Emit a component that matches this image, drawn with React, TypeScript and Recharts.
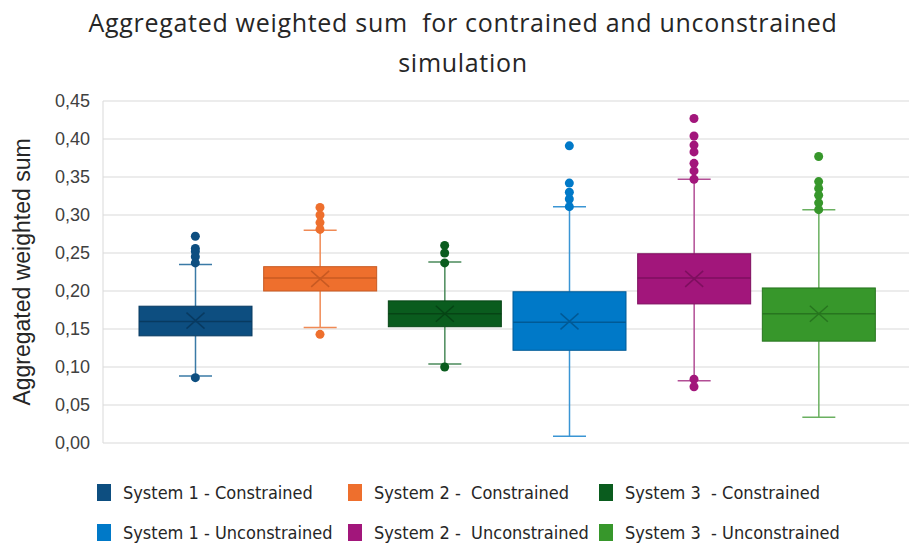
import React from 'react';
import { ComposedChart, Bar, Scatter, XAxis, YAxis, CartesianGrid } from 'recharts';

const categories = [
  'System 1 - Constrained',
  'System 2 - Constrained',
  'System 3 - Constrained',
  'System 1 - Unconstrained',
  'System 2 - Unconstrained',
  'System 3 - Unconstrained',
];
const legendLabels = [
  'System 1 - Constrained',
  'System 2 -  Constrained',
  'System 3  - Constrained',
  'System 1 - Unconstrained',
  'System 2 -  Unconstrained',
  'System 3  - Unconstrained',
];
const q1 = [0.141, 0.2, 0.153, 0.122, 0.183, 0.134];
const median = [0.16, 0.217, 0.17, 0.159, 0.217, 0.17];
const q3 = [0.18, 0.232, 0.187, 0.199, 0.249, 0.204];
const mean = [0.161, 0.216, 0.17, 0.16, 0.216, 0.17];
const whiskerLow = [0.088, 0.152, 0.104, 0.009, 0.082, 0.034];
const whiskerHigh = [0.235, 0.28, 0.238, 0.311, 0.347, 0.307];
const outliers: number[][] = [
  [0.272, 0.256, 0.252, 0.245, 0.237, 0.086],
  [0.31, 0.3, 0.29, 0.281, 0.143],
  [0.26, 0.25, 0.237, 0.1],
  [0.391, 0.342, 0.33, 0.321, 0.311],
  [0.427, 0.404, 0.392, 0.383, 0.368, 0.358, 0.347, 0.084, 0.074],
  [0.377, 0.344, 0.335, 0.326, 0.316, 0.307],
];
const yTicks = [0, 0.05, 0.1, 0.15, 0.2, 0.25, 0.3, 0.35, 0.4, 0.45];

const fillColors = ['#0D4E80', '#EE6F2D', '#0A5C1E', '#0079C8', '#A2167B', '#37972B'];
const darkColors = ['#083A60', '#C85A22', '#064415', '#005A96', '#7E0F5F', '#27751F'];
const whiskerColors = ['#3A7AA6', '#F08A55', '#4A8A5A', '#3A95D4', '#B24E95', '#6AB060'];

const data = categories.map((name, i) => ({
  name,
  idx: i,
  box: [q1[i], q3[i]],
  q1: q1[i],
  q3: q3[i],
  median: median[i],
  mean: mean[i],
  lo: whiskerLow[i],
  hi: whiskerHigh[i],
}));

const outlierData = outliers.flatMap((arr, i) =>
  arr.map((v) => ({ name: categories[i], value: v, idx: i }))
);

function BoxShape(props: any) {
  const { x, y, width, height, payload } = props;
  const p = payload;
  const top = Math.min(y, y + height);
  const h = Math.abs(height);
  const k = h / (p.q3 - p.q1);
  const py = (v: number) => top + (p.q3 - v) * k;
  const cx = x + width / 2;
  const i = p.idx;
  const capHalf = 16.5;
  const yHi = py(p.hi);
  const yLo = py(p.lo);
  const yMed = py(p.median);
  const yMean = py(p.mean);
  const wc = whiskerColors[i];
  const dc = darkColors[i];
  return (
    <g>
      <line x1={cx} x2={cx} y1={yHi} y2={top} stroke={wc} strokeWidth={1.5} />
      <line x1={cx} x2={cx} y1={top + h} y2={yLo} stroke={wc} strokeWidth={1.5} />
      <line x1={cx - capHalf} x2={cx + capHalf} y1={yHi} y2={yHi} stroke={wc} strokeWidth={1.5} />
      <line x1={cx - capHalf} x2={cx + capHalf} y1={yLo} y2={yLo} stroke={wc} strokeWidth={1.5} />
      <rect x={x} y={top} width={width} height={h} fill={fillColors[i]} stroke={dc} strokeWidth={1} />
      <line x1={x} x2={x + width} y1={yMed} y2={yMed} stroke={dc} strokeWidth={1.5} />
      <line x1={cx - 9} x2={cx + 9} y1={yMean - 8} y2={yMean + 8} stroke={dc} strokeWidth={1.5} />
      <line x1={cx - 9} x2={cx + 9} y1={yMean + 8} y2={yMean - 8} stroke={dc} strokeWidth={1.5} />
    </g>
  );
}

function OutlierDot(props: any) {
  const { cx, cy, payload } = props;
  if (cx == null || cy == null) return null;
  return <circle cx={cx} cy={cy} r={4.5} fill={fillColors[payload.idx]} />;
}

function YLabel(props: any) {
  const vb = props.viewBox || {};
  const lx = 22;
  const ly = vb.y + vb.height / 2;
  return (
    <text
      x={lx}
      y={ly}
      transform={`rotate(-90, ${lx}, ${ly})`}
      textAnchor="middle"
      dominantBaseline="central"
      fontFamily="Liberation Sans, Arial, sans-serif"
      fontSize={23}
      fill="#262626"
    >
      Aggregated weighted sum
    </text>
  );
}

const fmt = (v: number) => v.toFixed(2).replace('.', ',');

export default function App() {
  return (
    <div style={{ position: 'absolute', left: 0, top: 0, width: 909, height: 543, background: '#fff' }}>
      <div
        style={{
          position: 'absolute',
          left: 0,
          top: 2,
          width: 926,
          textAlign: 'center',
          fontFamily: 'Open Sans, Noto Sans, sans-serif',
          fontSize: 25,
          letterSpacing: 0.7,
          lineHeight: '40px',
          color: '#262626',
          whiteSpace: 'pre',
        }}
      >
        {'Aggregated weighted sum  for contrained and unconstrained\nsimulation'}
      </div>
      <ComposedChart
        width={909}
        height={543}
        data={data}
        margin={{ top: 101, right: 0, bottom: 100, left: 0 }}
      >
        <CartesianGrid vertical={false} stroke="#d9d9d9" strokeWidth={1} />
        <XAxis
          dataKey="name"
          type="category"
          allowDuplicatedCategory={false}
          hide
          padding={{ left: 30, right: 28 }}
        />
        <YAxis
          width={103}
          domain={[0, 0.45]}
          ticks={yTicks}
          tickFormatter={fmt}
          axisLine={{ stroke: '#d9d9d9' }}
          tickLine={false}
          tickSize={0}
          tickMargin={13}
          tick={{ fill: '#404040', fontSize: 18, fontFamily: 'Liberation Sans, Arial, sans-serif' }}
          label={<YLabel />}
        />
        <Bar dataKey="box" barSize={113} shape={<BoxShape />} isAnimationActive={false} />
        <Scatter data={outlierData} dataKey="value" shape={<OutlierDot />} isAnimationActive={false} />
      </ComposedChart>
      {legendLabels.map((label, i) => {
        const col = i % 3;
        const row = Math.floor(i / 3);
        const colX = [97, 348, 599][col];
        const rowY = [492, 532][row];
        return (
          <div
            key={label}
            style={{
              position: 'absolute',
              left: colX,
              top: rowY - 10,
              height: 20,
              display: 'flex',
              alignItems: 'center',
              whiteSpace: 'pre',
              fontFamily: 'Liberation Sans Narrow, DejaVu Sans Condensed, sans-serif',
              fontSize: 18,
              color: '#262626',
            }}
          >
            <span style={{ display: 'inline-block', width: 14, height: 17, background: fillColors[i], marginRight: 12 }} />
            <span>{label}</span>
          </div>
        );
      })}
    </div>
  );
}
